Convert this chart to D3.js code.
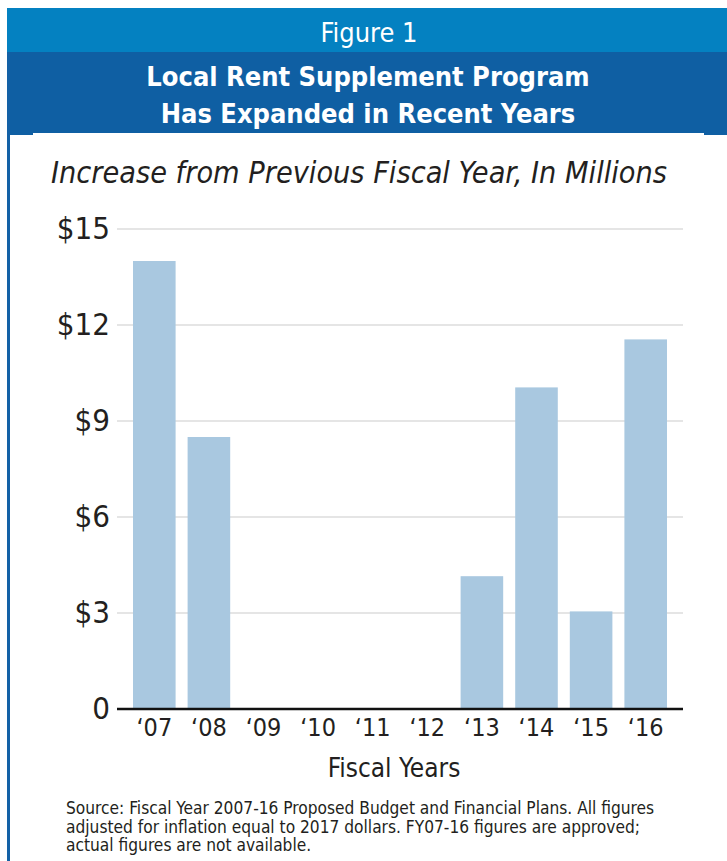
<!DOCTYPE html>
<html>
<head>
<meta charset="utf-8">
<script src="https://cdn.jsdelivr.net/npm/d3@7"></script>
<style>
  body { margin: 0; background: #fff; }
  svg { display: block; }
</style>
</head>
<body>
<div id="chart"></div>
<script>
// Fiscal years on the x axis
var years = ['\u201807', '\u201808', '\u201809', '\u201810', '\u201811', '\u201812', '\u201813', '\u201814', '\u201815', '\u201816']
// Increase from previous fiscal year, in millions (no bar = no data)
var increases = [14.0, 8.5, null, null, null, null, 4.15, 10.05, 3.05, 11.55]
// y ticks
var yTicks = [0, 3, 6, 9, 12, 15]
var yTickLabels = ['0', '$3', '$6', '$9', '$12', '$15']

var W = 727, H = 861
var narrow = '"DejaVu Sans Condensed", "DejaVu Sans", sans-serif'

var svg = d3.select('#chart').append('svg')
  .attr('width', W)
  .attr('height', H)

// header bands
svg.append('rect').attr('x', 7).attr('y', 8).attr('width', W - 7).attr('height', 44).attr('fill', '#0481c1')
svg.append('rect').attr('x', 7).attr('y', 52).attr('width', W - 7).attr('height', 83).attr('fill', '#0f5fa3')
svg.append('rect').attr('x', 33).attr('y', 133).attr('width', 671).attr('height', 3).attr('fill', '#fff')
// left border of the box
svg.append('rect').attr('x', 7).attr('y', 52).attr('width', 3).attr('height', H - 52).attr('fill', '#1361a6')

svg.append('text')
  .attr('x', 369).attr('y', 42)
  .attr('text-anchor', 'middle')
  .style('font-family', narrow)
  .style('font-size', '27px')
  .attr('fill', '#fff')
  .text('Figure 1')

var titleLines = ['Local Rent Supplement Program', 'Has Expanded in Recent Years']
svg.selectAll('.title')
  .data(titleLines)
  .enter()
  .append('text')
  .attr('class', 'title')
  .attr('x', 368)
  .attr('y', function (d, i) { return 86 + i * 37 })
  .attr('text-anchor', 'middle')
  .style('font-family', narrow)
  .style('font-size', '27px')
  .style('font-weight', 'bold')
  .attr('fill', '#fff')
  .text(function (d) { return d })

// subtitle
svg.append('text')
  .attr('x', 51).attr('y', 183)
  .style('font-family', narrow)
  .style('font-style', 'italic')
  .style('font-size', '30.3px')
  .attr('fill', '#231f20')
  .text('Increase from Previous Fiscal Year, In Millions')

// chart area
var plotLeft = 117, plotRight = 683, plotTop = 229, plotBottom = 709

var x = d3.scaleBand()
  .domain(years)
  .range([121, 679])
  .paddingInner(0.22)
  .paddingOuter(0.22)

var y = d3.scaleLinear()
  .domain([0, 15])
  .range([plotBottom, plotTop])

// gridlines
svg.append('g')
  .selectAll('line')
  .data(yTicks.slice(1))
  .enter()
  .append('line')
  .attr('x1', plotLeft).attr('x2', plotRight)
  .attr('y1', function (d) { return y(d) })
  .attr('y2', function (d) { return y(d) })
  .attr('stroke', '#dcdcdc')
  .attr('stroke-width', 1.5)

// y axis labels
var yAxis = svg.append('g')
  .attr('transform', 'translate(' + (plotLeft - 7) + ',0)')
  .call(d3.axisLeft(y).tickValues(yTicks).tickSize(0).tickPadding(0)
    .tickFormat(function (d, i) { return yTickLabels[i] }))
yAxis.select('.domain').remove()
yAxis.selectAll('text')
  .style('font-family', narrow)
  .style('font-size', '31px')
  .attr('fill', '#231f20')

// bars
var barData = years.map(function (yr, i) { return { year: yr, value: increases[i] } })
  .filter(function (d) { return d.value !== null })

svg.append('g')
  .selectAll('rect')
  .data(barData)
  .enter()
  .append('rect')
  .attr('x', function (d) { return x(d.year) })
  .attr('y', function (d) { return y(d.value) })
  .attr('width', x.bandwidth())
  .attr('height', function (d) { return plotBottom - y(d.value) })
  .attr('fill', '#a9c8e0')

// x axis
var xAxis = svg.append('g')
  .attr('transform', 'translate(0,' + plotBottom + ')')
  .call(d3.axisBottom(x).tickSize(0).tickPadding(9))
xAxis.select('.domain')
  .attr('d', 'M' + plotLeft + ',0H' + plotRight)
  .attr('stroke', '#111')
  .attr('stroke-width', 2.5)
xAxis.selectAll('text')
  .style('font-family', narrow)
  .style('font-size', '25px')
  .attr('fill', '#231f20')

svg.append('text')
  .attr('x', 394).attr('y', 777)
  .attr('text-anchor', 'middle')
  .style('font-family', narrow)
  .style('font-size', '26px')
  .attr('fill', '#231f20')
  .text('Fiscal Years')

// source note
var source = [
  'Source: Fiscal Year 2007-16 Proposed Budget and Financial Plans. All figures',
  'adjusted for inflation equal to 2017 dollars. FY07-16 figures are approved;',
  'actual figures are not available.'
]
svg.selectAll('.source')
  .data(source)
  .enter()
  .append('text')
  .attr('class', 'source')
  .attr('x', 66)
  .attr('y', function (d, i) { return 814 + i * 18.5 })
  .style('font-family', narrow)
  .style('font-size', '17.2px')
  .attr('fill', '#231f20')
  .text(function (d) { return d })
</script>
</body>
</html>
